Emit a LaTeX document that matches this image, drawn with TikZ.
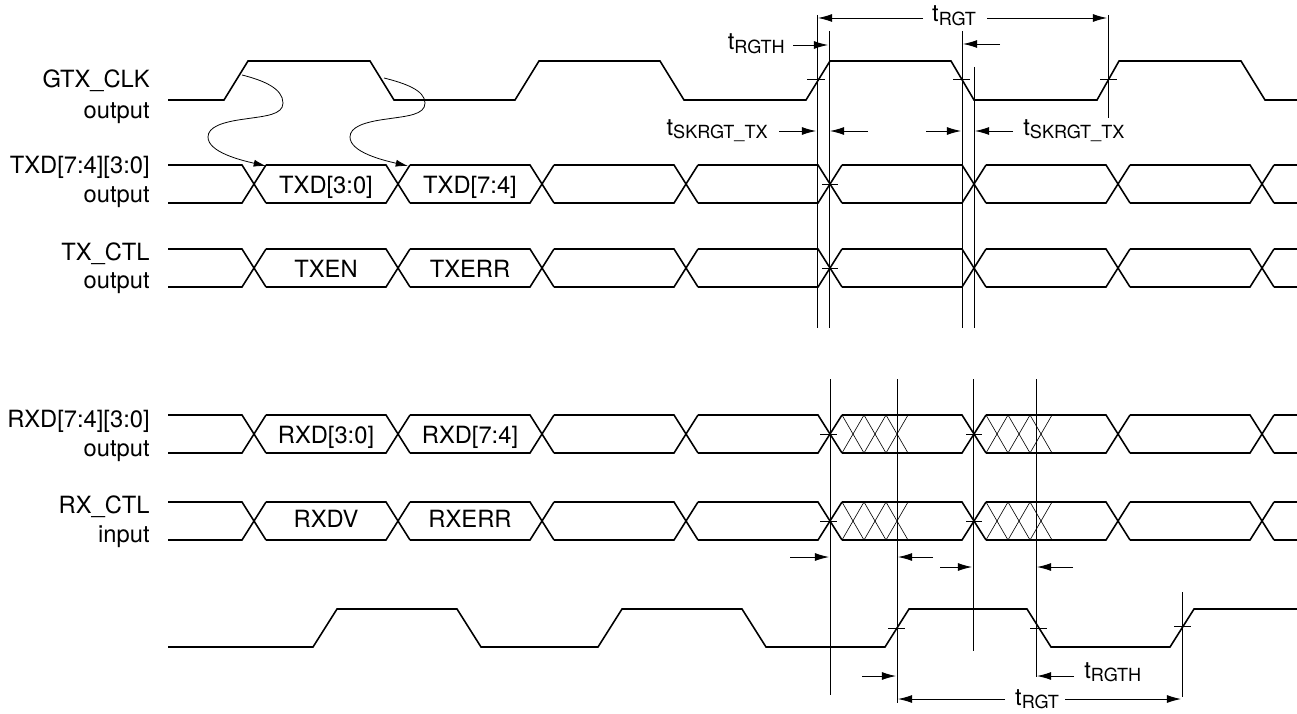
\documentclass[tikz,border=0pt]{standalone}
\usepackage{fontspec}
\setmainfont{TeX Gyre Heros}
\usetikzlibrary{arrows.meta}

\newcommand{\tsub}[1]{t\raisebox{-1.9pt}{\fontsize{10.3}{12}\selectfont #1}}

\begin{document}
\begin{tikzpicture}[
    x=0.02cm, y=-0.02cm,
  sig/.style={line width=0.9pt},
  guide/.style={line width=0.45pt},
  hatch/.style={line width=0.35pt},
  tick/.style={line width=0.45pt},
  dim/.style={-{Latex[length=8pt,width=4.5pt]}, line width=0.5pt},
  curvearrow/.style={-{Latex[length=7pt,width=4pt]}, line width=0.45pt},
  signame/.style={anchor=base east, inner sep=0pt, font=\fontsize{13.5}{16}\selectfont},
  busval/.style={anchor=base, inner sep=0pt, font=\fontsize{13.5}{16}\selectfont},
  tlabel/.style={inner sep=0pt, font=\fontsize{13.5}{16}\selectfont}
]
\useasboundingbox (0,0) rectangle (1297,713);

% Signal names
\node[signame] (gtxname) at (150,88) {GTX\_CLK};
\node[signame] (gtxdir) at (150,118) {output};
\node[signame] (txdname) at (150,173) {TXD[7:4][3:0]};
\node[signame] (txddir) at (150,202) {output};
\node[signame] (txctlname) at (150,260) {TX\_CTL};
\node[signame] (txctldir) at (150,288) {output};
\node[signame] (rxdname) at (150,427) {RXD[7:4][3:0]};
\node[signame] (rxddir) at (150,456) {output};
\node[signame] (rxctlname) at (150,513) {RX\_CTL};
\node[signame] (rxctldir) at (150,542) {input};

% Clocks
\draw[sig] (168,100) -- (224,100) -- (248,61) -- (370,61) -- (394,100) -- (515,100)
  -- (539,61) -- (660,61) -- (684,100) -- (806,100) -- (830,61) -- (951,61)
  -- (974,100) -- (1097,100) -- (1119,61) -- (1241,61) -- (1265,100) -- (1297,100);
\draw[sig] (168,647) -- (313,647) -- (337,609) -- (457,609) -- (481,647) -- (598,647)
  -- (622,609) -- (742,609) -- (766,647) -- (885,647) -- (909,609) -- (1027,609)
  -- (1051,647) -- (1170,647) -- (1194,609) -- (1297,609);

% Buses
\foreach \yt/\yb in {165/203, 249/287, 415/453, 502/540} {
  \foreach \c [remember=\c as \p (initially 156)] in {254,398,...,1262} {
    \draw[sig] ({\p+12},\yt) -- ({\c-12},\yt) -- ({\c+12},\yb);
    \draw[sig] ({\p+12},\yb) -- ({\c-12},\yb) -- ({\c+12},\yt);
  }
  \draw[sig] (1274,\yt) -- (1297,\yt) (1274,\yb) -- (1297,\yb);
}

% Uncertain windows
\foreach \c in {830,974} {
  \foreach \yt/\yb in {415/453, 502/540} {
    \foreach \k in {0,1,2} {
      \draw[hatch] ({\c+12+22*\k},\yt) -- ({\c+34+22*\k},\yb);
      \draw[hatch] ({\c+12+22*\k},\yb) -- ({\c+34+22*\k},\yt);
    }
  }
}

% Bus values
\node[busval] (txdlo) at (326,193) {TXD[3:0]};
\node[busval] (txdhi) at (470,193) {TXD[7:4]};
\node[busval] (txen) at (326,277) {TXEN};
\node[busval] (txerr) at (470,277) {TXERR};
\node[busval] (rxdlo) at (326,443) {RXD[3:0]};
\node[busval] (rxdhi) at (470,443) {RXD[7:4]};
\node[busval] (rxdv) at (326,527) {RXDV};
\node[busval] (rxerr) at (470,527) {RXERR};

% Clock to data
\draw[curvearrow] (242,75) .. controls (262,80) and (283,88) .. (283,103)
  .. controls (283,115) and (265,116) .. (245,119)
  .. controls (222,122) and (208,127) .. (208,137)
  .. controls (208,152) and (240,160) .. (266,166);
\draw[curvearrow] (384,78) .. controls (404,83) and (425,90) .. (425,103)
  .. controls (425,115) and (407,116) .. (387,119)
  .. controls (364,122) and (350,127) .. (350,137)
  .. controls (350,152) and (382,160) .. (408,166);

% Guide lines
\draw[guide] (817,15) -- (817,328);
\draw[guide] (829,31) -- (829,328);
\draw[guide] (962,31) -- (962,328);
\draw[guide] (974,67) -- (974,328);
\draw[guide] (1108,15) -- (1108,118);
\draw[guide] (830,379) -- (830,695);
\draw[guide] (897,379) -- (897,703);
\draw[guide] (973,379) -- (973,651);
\draw[guide] (1036,379) -- (1036,677);
\draw[guide] (1182,592) -- (1182,697);

% Crossing ticks
\draw[tick] (807,79) -- (825,79);
\draw[tick] (953,79) -- (970,79);
\draw[tick] (1100,79) -- (1117,79);
\draw[tick] (822,184) -- (838,184);
\draw[tick] (822,268) -- (838,268);
\draw[tick] (820,434) -- (837,434);
\draw[tick] (966,434) -- (982,434);
\draw[tick] (820,521) -- (837,521);
\draw[tick] (966,521) -- (982,521);
\draw[tick] (888,628) -- (905,628);
\draw[tick] (1030,628) -- (1047,628);
\draw[tick] (1174,626) -- (1191,626);

% Transmit timing
\node[tlabel, anchor=base] (rgttop) at (954,22) {\tsub{RGT}};
\draw[dim] (923,18) -- (818,18);
\draw[dim] (987,18) -- (1107,18);
\node[tlabel, anchor=base east] (rgthtop) at (785,50) {\tsub{RGTH}};
\draw[dim] (793,45) -- (828,45);
\draw[dim] (1000,44) -- (963,44);
\node[tlabel, anchor=base east] (skewleft) at (768,135) {\tsub{SKRGT\_TX}};
\draw[dim] (779,131) -- (816,131);
\draw[dim] (868,131) -- (830,131);
\draw[dim] (926,131) -- (961,131);
\draw[dim] (1013,131) -- (975,131);
\node[tlabel, anchor=base west] (skewright) at (1023,135) {\tsub{SKRGT\_TX}};

% Receive timing
\draw[dim] (790,557) -- (829,557);
\draw[dim] (933,557) -- (898,557);
\draw[dim] (940,567) -- (972,567);
\draw[dim] (1073,567) -- (1037,567);
\draw[dim] (862,676) -- (896,676);
\draw[dim] (1074,676) -- (1037,676);
\node[tlabel, anchor=base west] (rgthbot) at (1084,678) {\tsub{RGTH}};
\node[tlabel, anchor=base] (rgtbot) at (1037,705) {\tsub{RGT}};
\draw[dim] (1005,699) -- (898,699);
\draw[dim] (1065,699) -- (1181,699);

\end{tikzpicture}
\end{document}
